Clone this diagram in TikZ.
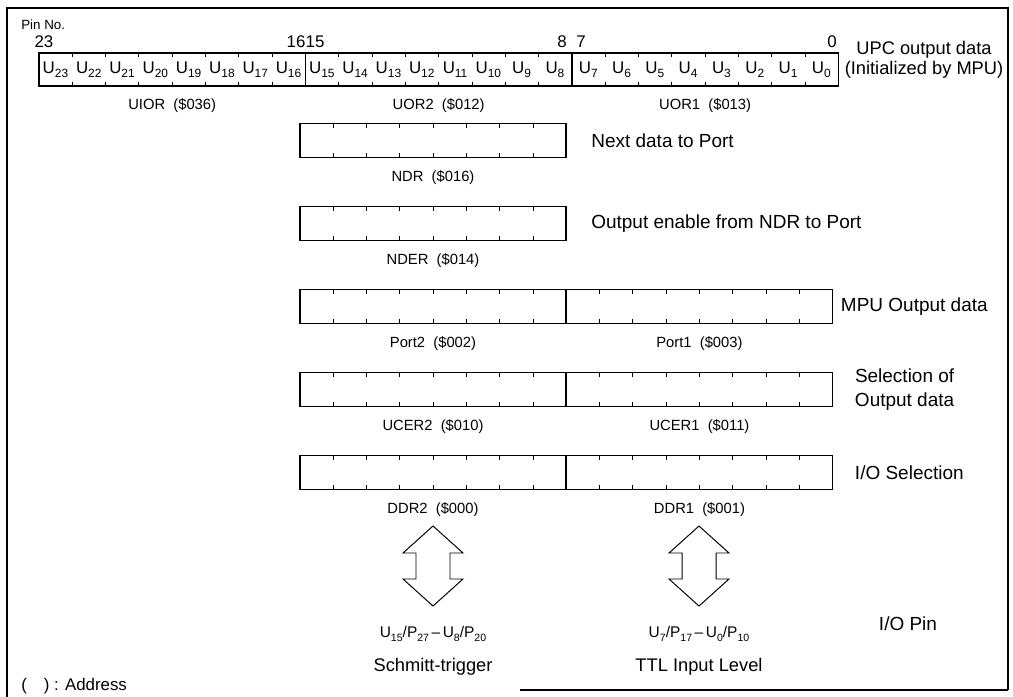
\documentclass[tikz,border=0pt]{standalone}
\usepackage{fontspec}
\setmainfont{Liberation Sans}
\usetikzlibrary{positioning,calc}

\newcommand{\Ub}[1]{U\raisebox{-0.45ex}{\fontsize{8.5}{9}\selectfont #1}}
\newcommand{\sbs}[1]{\raisebox{-0.4ex}{\fontsize{7.5}{8}\selectfont #1}}

\begin{document}
\begin{tikzpicture}[
    x=0.025cm, y=-0.025cm,
    reg/.style={draw, line width=1.1pt, minimum width=6.66cm,
                minimum height=0.84cm, inner sep=0pt, outer sep=0pt},
    tick/.style={line width=0.6pt},
    cell/.style={font=\fontsize{12}{14}\selectfont, inner sep=0pt},
    pin/.style={font=\fontsize{12}{14}\selectfont, inner sep=0pt},
    addr/.style={font=\fontsize{10.5}{12}\selectfont, inner sep=0pt},
    desc/.style={font=\fontsize{13.5}{17}\selectfont, anchor=west, inner sep=0pt},
    blk/.style={draw, line width=0.7pt, line join=miter}
]
    \useasboundingbox (0,0) rectangle (1013,697);

    % frame
    \draw[line width=1.2pt] (7,697) -- (7,8) -- (1008,8) -- (1008,690);
    \draw[line width=1.2pt] (520,690) -- (1008,690);

    % UPC output registers
    \node[reg, minimum height=0.83cm] (uior) at (172.2,69.5) {};
    \node[reg, minimum height=0.83cm, right=0pt of uior] (uor2) {};
    \node[reg, minimum height=0.83cm, right=0pt of uor2] (uor1) {};
    \foreach \k in {0,...,23}
        \node[cell] (u\k) at ({38.8+(23-\k+0.5)*33.3}, 70) {\Ub{\k}};

    \node[font=\fontsize{9.5}{11}\selectfont, anchor=west, inner sep=0pt] (pinno) at (21,25) {Pin No.};
    \node[pin] (p23) at (44,42) {23};
    \node[pin] (p16) at (296,42) {16};
    \node[pin] (p15) at (315,42) {15};
    \node[pin] (p8)  at (562,42) {8};
    \node[pin] (p7)  at (581,42) {7};
    \node[pin] (p0)  at (832,42) {0};

    \node[addr, below=0.3cm of uior] (uiorlbl) {UIOR\ \ (\$036)};
    \node[addr, below=0.3cm of uor2] (uor2lbl) {UOR2\ \ (\$012)};
    \node[addr, below=0.3cm of uor1] (uor1lbl) {UOR1\ \ (\$013)};
    \node[desc, anchor=center, align=center, font=\fontsize{13}{14.5}\selectfont]
        (upctxt) at (924,60) {UPC output data\\(Initialized by MPU)};

    % lower registers
    \node[reg] (ndr)   at (433,140.5) {};
    \node[reg] (nder)  at (433,223.5) {};
    \node[reg] (port2) at (433,306.5) {};
    \node[reg, right=0pt of port2] (port1) {};
    \node[reg] (ucer2) at (433,389.5) {};
    \node[reg, right=0pt of ucer2] (ucer1) {};
    \node[reg] (ddr2)  at (433,472.5) {};
    \node[reg, right=0pt of ddr2] (ddr1) {};

    \foreach \r in {uior,uor2,uor1,ndr,nder,port2,port1,ucer2,ucer1,ddr2,ddr1}
        \foreach \i in {1,...,7} {
            \draw[tick] ($(\r.north west)!\i/8!(\r.north east)$) -- ++(0,4);
            \draw[tick] ($(\r.south west)!\i/8!(\r.south east)$) -- ++(0,-4);
        }

    \node[addr, below=0.32cm of ndr]   (ndrlbl)   {NDR\ \ (\$016)};
    \node[addr, below=0.32cm of nder]  (nderlbl)  {NDER\ \ (\$014)};
    \node[addr, below=0.32cm of port2] (port2lbl) {Port2\ \ (\$002)};
    \node[addr, below=0.32cm of port1] (port1lbl) {Port1\ \ (\$003)};
    \node[addr, below=0.32cm of ucer2] (ucer2lbl) {UCER2\ \ (\$010)};
    \node[addr, below=0.32cm of ucer1] (ucer1lbl) {UCER1\ \ (\$011)};
    \node[addr, below=0.32cm of ddr2]  (ddr2lbl)  {DDR2\ \ (\$000)};
    \node[addr, below=0.32cm of ddr1]  (ddr1lbl)  {DDR1\ \ (\$001)};

    \node[desc, right=0.62cm of ndr]   (ndrtxt)  {Next data to Port};
    \node[desc, right=0.62cm of nder]  (ndertxt) {Output enable from NDR to Port};
    \node[desc, right=0.2cm of port1]  (porttxt) {MPU Output data};
    \node[desc, right=0.55cm of ucer1, align=center] (ucertxt) {Selection of\\Output data};
    \node[desc, right=0.55cm of ddr1]  (ddrtxt)  {I/O Selection};

    % pin arrows
    \coordinate (arrl) at (433,566);
    \coordinate (arrr) at (699,566);
    \foreach \c in {arrl,arrr}
        \draw[blk] ($(\c)+(0,-40)$) -- ++(30,27) -- ++(-13,0) -- ++(0,26) -- ++(13,0)
            -- ++(-30,27) -- ++(-30,-27) -- ++(13,0) -- ++(0,-26) -- ++(-13,0) -- cycle;

    \node[font=\fontsize{11}{12}\selectfont] (pinsl) at (433,634)
        {U\sbs{15}/P\sbs{27}\,–\,U\sbs{8}/P\sbs{20}};
    \node[font=\fontsize{11}{12}\selectfont] (pinsr) at (699,634)
        {U\sbs{7}/P\sbs{17}\,–\,U\sbs{0}/P\sbs{10}};
    \node[font=\fontsize{13}{15}\selectfont] (trigl) at (433,667) {Schmitt-trigger};
    \node[font=\fontsize{13}{15}\selectfont] (trigr) at (699,667) {TTL Input Level};
    \node[font=\fontsize{13.5}{15}\selectfont] (iopin) at (908,624) {I/O Pin};

    \node[font=\fontsize{12}{14}\selectfont, anchor=west, inner sep=0pt] (addrnote) at (21,686)
        {(\quad) : Address};
\end{tikzpicture}
\end{document}
